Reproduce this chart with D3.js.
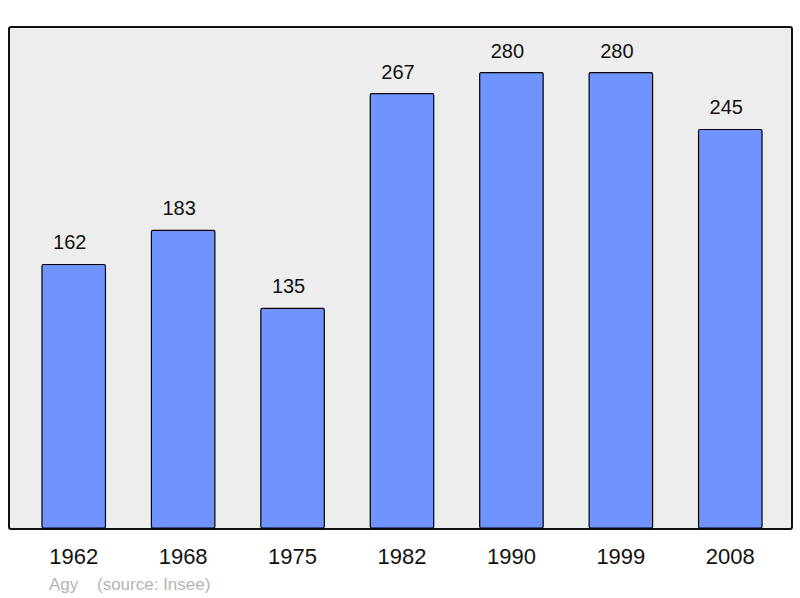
<!DOCTYPE html>
<html lang="en">
<head>
<meta charset="UTF-8">
<script src="https://cdn.jsdelivr.net/npm/d3@7"></script>
<title>Agy population</title>
<style>
  body { margin: 0; background: white; font-family: "Liberation Sans", Arial, sans-serif; }
</style>
</head>
<body>
<script>
// census years and population
const years = ["1962", "1968", "1975", "1982", "1990", "1999", "2008"];
const population = [162, 183, 135, 267, 280, 280, 245];
const commune = "Agy";
const source = "(source: Insee)";

const width = 800, height = 598;
const panel = {left: 9, top: 27, right: 792, bottom: 529};

const svg = d3.select("body").append("svg")
    .attr("width", width)
    .attr("height", height);

// background panel
svg.append("rect")
    .attr("x", panel.left)
    .attr("y", panel.top)
    .attr("width", panel.right - panel.left)
    .attr("height", panel.bottom - panel.top)
    .attr("rx", 2)
    .attr("fill", "#ededed")
    .attr("stroke", "#111")
    .attr("stroke-width", 2);

const x = d3.scaleBand()
    .domain(years)
    .range([19, 785])
    .paddingInner(0.42)
    .paddingOuter(0.21);

const y = d3.scaleLinear()
    .domain([0, d3.max(population) * 1.1])
    .range([528, panel.top]);

const data = years.map((yr, i) => ({year: yr, value: population[i]}));

svg.selectAll("rect.bar")
    .data(data)
    .enter()
    .append("rect")
    .attr("class", "bar")
    .attr("x", d => x(d.year))
    .attr("y", d => y(d.value))
    .attr("width", x.bandwidth())
    .attr("height", d => y(0) - y(d.value))
    .attr("rx", 1.5)
    .attr("fill", "#7094ff")
    .attr("stroke", "#000")
    .attr("stroke-width", 1.2);

// value labels (sit a little left of bar centre, as in the original)
svg.selectAll("text.val")
    .data(data)
    .enter()
    .append("text")
    .attr("class", "val")
    .attr("x", d => x(d.year) + x.bandwidth() / 2 - 4)
    .attr("y", d => y(d.value) - 15)
    .attr("text-anchor", "middle")
    .attr("font-size", 20)
    .attr("fill", "#111")
    .text(d => d.value);

// year labels
svg.selectAll("text.yr")
    .data(data)
    .enter()
    .append("text")
    .attr("class", "yr")
    .attr("x", d => x(d.year) + x.bandwidth() / 2)
    .attr("y", 564)
    .attr("text-anchor", "middle")
    .attr("font-size", 22)
    .attr("fill", "#111")
    .text(d => d.year);

svg.append("text")
    .attr("x", 49)
    .attr("y", 590)
    .attr("font-size", 17)
    .attr("fill", "#b4b4b4")
    .text(commune);

svg.append("text")
    .attr("x", 97)
    .attr("y", 590)
    .attr("font-size", 17)
    .attr("fill", "#b4b4b4")
    .text(source);
</script>
</body>
</html>
